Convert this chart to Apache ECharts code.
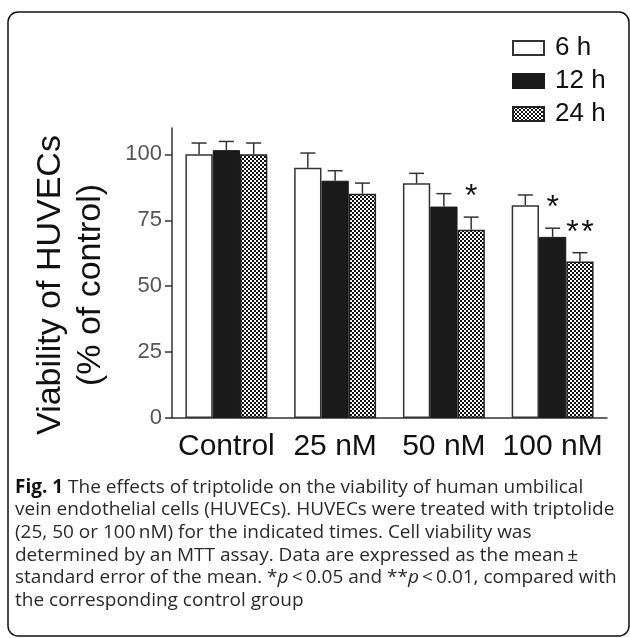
<!DOCTYPE html>
<html><head><meta charset="utf-8">
<script src="https://cdn.jsdelivr.net/npm/echarts@6/dist/echarts.min.js"></script>
<style>html,body{margin:0;padding:0;background:#fff}#c{width:630px;height:638px}</style>
</head><body><div id="c"></div>
<script>
const categories = ['Control', '25 nM', '50 nM', '100 nM'];
const seriesNames = ['6 h', '12 h', '24 h'];
const values6h = [100, 94.9, 89.0, 80.7];
const values12h = [101.6, 90.0, 80.2, 68.7];
const values24h = [100, 85.1, 71.4, 59.4];
const sem6h = [4.3, 5.6, 3.8, 3.9];
const sem12h = [3.3, 3.8, 4.9, 3.3];
const sem24h = [4.3, 4.0, 4.8, 3.3];
const yTickValues = [0, 25, 50, 75, 100];
const sigCategory = [2, 3, 3];
const sigSeries = [2, 1, 2];
const sigMarks = ['*', '*', '*\u200A*'];
const yAxisTitle = ['Viability of HUVECs', '(% of control)'];
const captionLines = [
  '{b|Fig. 1} The effects of triptolide on the viability of human umbilical',
  'vein endothelial cells (HUVECs). HUVECs were treated with triptolide',
  '(25, 50 or 100\u2009nM) for the indicated times. Cell viability was',
  'determined by an MTT assay. Data are expressed as the mean\u2009\u00b1',
  'standard error of the mean. *{i|p}\u2009<\u20090.05 and **{i|p}\u2009<\u20090.01, compared with',
  'the corresponding control group'
];

const BAR_W = 27.3;
const CAP = 15;
const allVals = [values6h, values12h, values24h];
const allSem = [sem6h, sem12h, sem24h];

const pc = document.createElement('canvas');
pc.width = 4; pc.height = 4;
const g = pc.getContext('2d');
g.fillStyle = '#fff'; g.fillRect(0, 0, 4, 4);
g.fillStyle = '#111'; g.fillRect(0, 0, 2, 2); g.fillRect(2, 2, 2, 2);

const errData = [];
allVals.forEach((vals, s) => vals.forEach((v, i) => errData.push([i, s, v, allSem[s][i]])));
const sigData = sigCategory.map((c, k) => [c, sigSeries[k], allVals[sigSeries[k]][c] + allSem[sigSeries[k]][c]]);

const FONT = 'Liberation Sans, Arial, sans-serif';
const CAP_FS = 19, CAP_LH = 22.6;
const chart = echarts.init(document.getElementById('c'));
chart.setOption({
  animation: false,
  backgroundColor: '#fff',
  grid: { left: 172, right: 23, top: 128, bottom: 220, containLabel: false },
  legend: {
    data: seriesNames, orient: 'vertical', left: 507, top: 30,
    itemWidth: 31, itemHeight: 14, itemGap: 7, icon: 'rect',
    textStyle: { fontSize: 26, fontFamily: FONT, color: '#111', padding: [0, 0, 0, 6] }
  },
  xAxis: {
    type: 'category', data: categories,
    axisLine: { lineStyle: { color: '#333', width: 1.5 } },
    axisTick: { show: false },
    axisLabel: { interval: 0, fontSize: 30, fontFamily: FONT, color: '#111', margin: 14 }
  },
  yAxis: {
    type: 'value', min: 0, max: 110, interval: 25,
    splitLine: { show: false },
    axisLine: { show: true, lineStyle: { color: '#333', width: 1.5 } },
    axisTick: { show: true, length: 7, customValues: yTickValues, lineStyle: { color: '#333', width: 1.5 } },
    axisLabel: { fontSize: 22, fontFamily: FONT, color: '#555', margin: 10, customValues: yTickValues }
  },
  graphic: [
    { type: 'rect', shape: { x: 8, y: 12, width: 621, height: 624, r: 10 }, style: { fill: 'none', stroke: '#111', lineWidth: 1.5 } },
    { type: 'text', x: 71, y: 285, rotation: Math.PI / 2,
      style: { text: yAxisTitle.join('\n'), align: 'center', verticalAlign: 'middle', fontSize: 34, lineHeight: 40, fontFamily: FONT, fill: '#111' } },
    { type: 'text', x: 15, y: 476,
      style: { text: captionLines.join('\n'), fontSize: CAP_FS, lineHeight: CAP_LH, fontFamily: 'Open Sans', fill: '#2a2a2a',
        rich: { b: { fontWeight: 'bold', fill: '#111', fontSize: CAP_FS, lineHeight: CAP_LH, fontFamily: 'Open Sans' },
                i: { fontStyle: 'italic', fontSize: CAP_FS, lineHeight: CAP_LH, fontFamily: 'Open Sans', fill: '#2a2a2a' } } } }
  ],
  series: [
    { name: seriesNames[0], type: 'bar', data: values6h, barWidth: BAR_W, barGap: '0%',
      itemStyle: { color: '#fff', borderColor: '#333', borderWidth: 1.5 } },
    { name: seriesNames[1], type: 'bar', data: values12h, barWidth: BAR_W, barGap: '0%',
      itemStyle: { color: '#1a1a1a', borderColor: '#1a1a1a', borderWidth: 1 } },
    { name: seriesNames[2], type: 'bar', data: values24h, barWidth: BAR_W, barGap: '0%',
      itemStyle: { color: { image: pc, repeat: 'repeat' }, borderColor: '#222', borderWidth: 1.5 } },
    { type: 'custom', data: errData, encode: { x: 0, y: 2 }, z: 3, silent: true,
      renderItem(params, api) {
        const ci = api.value(0), s = api.value(1), v = api.value(2), e = api.value(3);
        const base = api.coord([ci, v]);
        const top = api.coord([ci, v + e]);
        const x = base[0] + (s - 1) * BAR_W;
        return { type: 'group', children: [
          { type: 'line', shape: { x1: x, y1: base[1], x2: x, y2: top[1] }, style: { stroke: '#333', lineWidth: 1.5 } },
          { type: 'line', shape: { x1: x - CAP / 2, y1: top[1], x2: x + CAP / 2, y2: top[1] }, style: { stroke: '#333', lineWidth: 1.5 } }
        ] };
      } },
    { type: 'custom', data: sigData, encode: { x: 0, y: 2 }, z: 4, silent: true,
      renderItem(params, api) {
        const ci = api.value(0), s = api.value(1), t = api.value(2);
        const p = api.coord([ci, t]);
        const x = p[0] + (s - 1) * BAR_W;
        return { type: 'text', x: x, y: p[1] - 28 + 8,
          style: { text: sigMarks[params.dataIndex], align: 'center', verticalAlign: 'middle', fontSize: 32, fontFamily: FONT, fill: '#111' } };
      } }
  ]
});
</script>
</body></html>
